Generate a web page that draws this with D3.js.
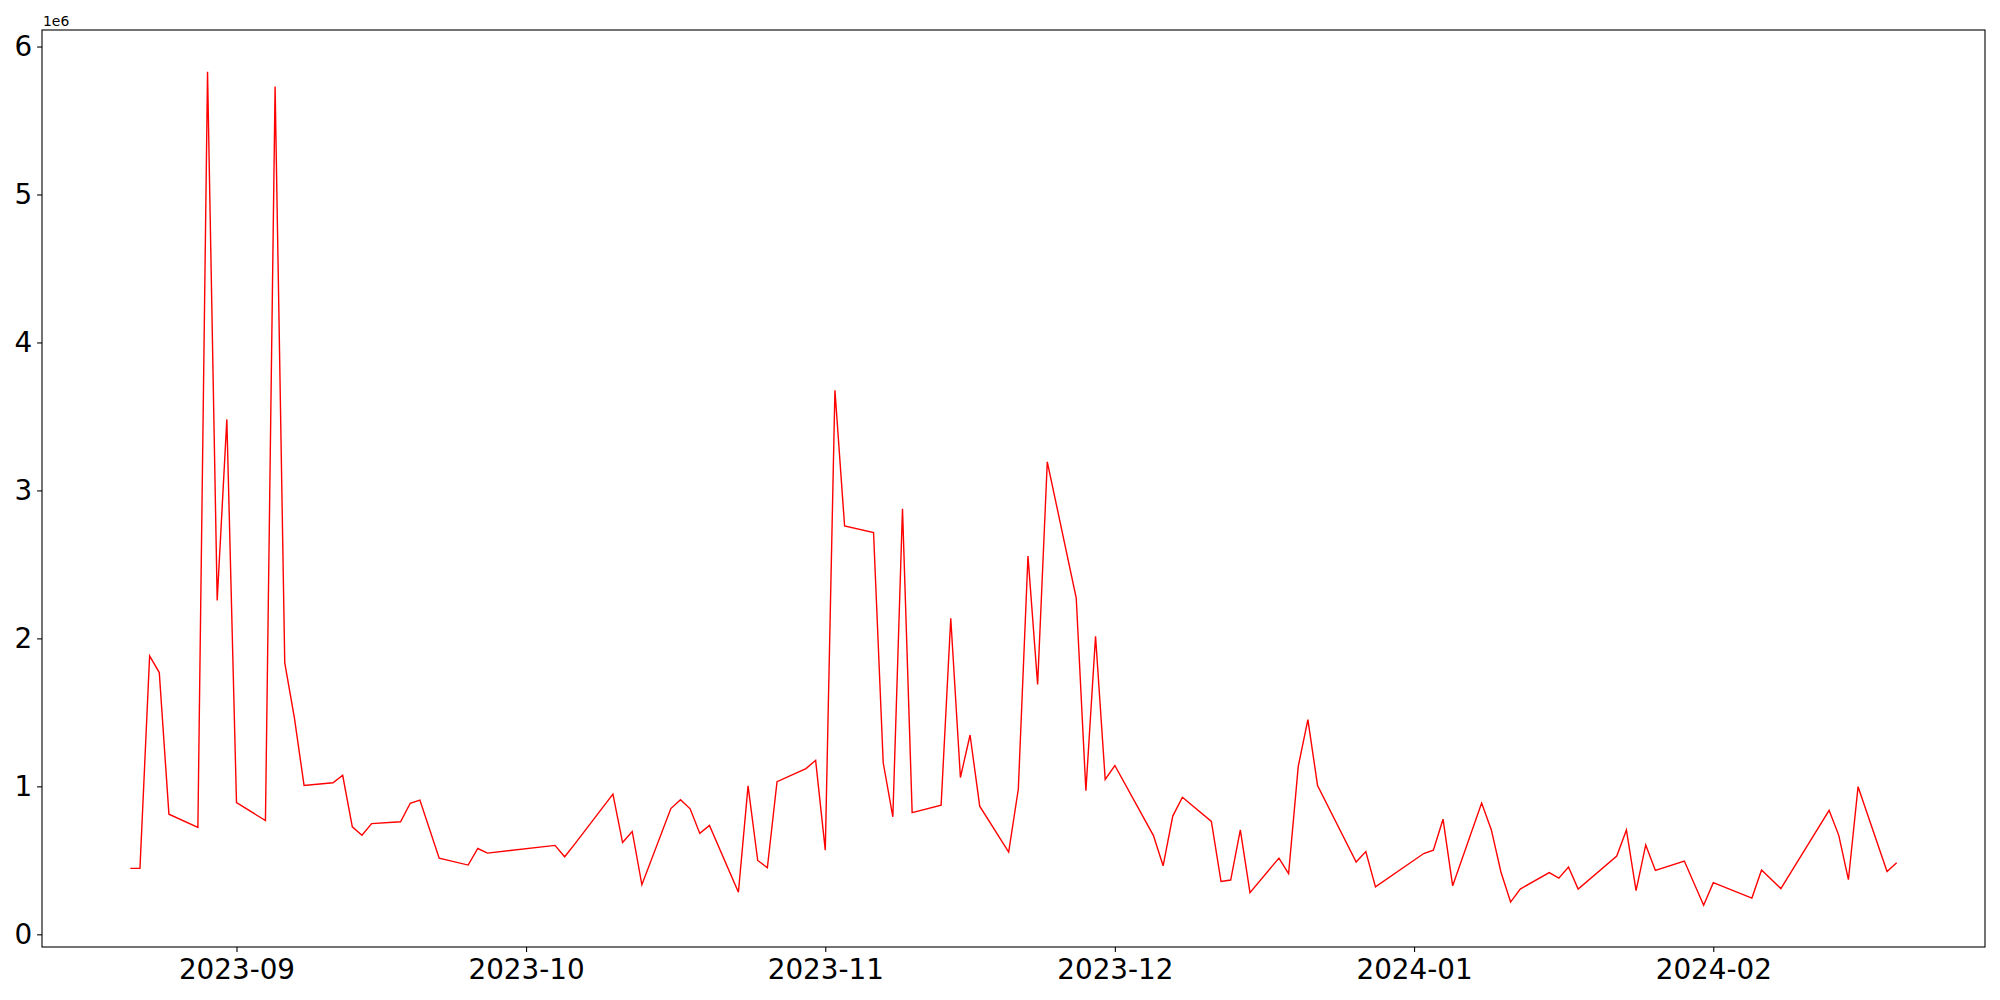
<!DOCTYPE html>
<html>
<head>
<meta charset="utf-8">
<script src="https://cdn.jsdelivr.net/npm/d3@7"></script>
<style>
  html, body { margin: 0; padding: 0; background: #fff; }
  svg { display: block; }
  .axis text { font-family: "DejaVu Sans", sans-serif; font-size: 27.8px; fill: #000; }
  .axis path, .axis line { stroke: #000; stroke-width: 1.1px; }
</style>
</head>
<body>
<svg id="chart" width="2000" height="1000"></svg>
<script>
// trading days and values (millions)
var dates = [
  "2023-08-21","2023-08-22","2023-08-23","2023-08-24","2023-08-25",
  "2023-08-28","2023-08-29","2023-08-30","2023-08-31","2023-09-01",
  "2023-09-04","2023-09-05","2023-09-06","2023-09-07","2023-09-08",
  "2023-09-11","2023-09-12","2023-09-13","2023-09-14","2023-09-15",
  "2023-09-18","2023-09-19","2023-09-20","2023-09-22",
  "2023-09-25","2023-09-26","2023-09-27",
  "2023-10-04","2023-10-05","2023-10-06",
  "2023-10-10","2023-10-11","2023-10-12","2023-10-13",
  "2023-10-16","2023-10-17","2023-10-18","2023-10-19","2023-10-20",
  "2023-10-23","2023-10-24","2023-10-25","2023-10-26","2023-10-27",
  "2023-10-30","2023-10-31","2023-11-01","2023-11-02","2023-11-03",
  "2023-11-06","2023-11-07","2023-11-08","2023-11-09","2023-11-10",
  "2023-11-13","2023-11-14","2023-11-15","2023-11-16","2023-11-17",
  "2023-11-20","2023-11-21","2023-11-22","2023-11-23","2023-11-24",
  "2023-11-27","2023-11-28","2023-11-29","2023-11-30","2023-12-01",
  "2023-12-05","2023-12-06","2023-12-07","2023-12-08",
  "2023-12-11","2023-12-12","2023-12-13","2023-12-14","2023-12-15",
  "2023-12-18","2023-12-19","2023-12-20","2023-12-21","2023-12-22",
  "2023-12-26","2023-12-27","2023-12-28",
  "2024-01-02","2024-01-03","2024-01-04","2024-01-05",
  "2024-01-08","2024-01-09","2024-01-10","2024-01-11","2024-01-12",
  "2024-01-15","2024-01-16","2024-01-17","2024-01-18",
  "2024-01-22","2024-01-23","2024-01-24","2024-01-25","2024-01-26",
  "2024-01-29","2024-01-31","2024-02-01",
  "2024-02-05","2024-02-06","2024-02-08",
  "2024-02-13","2024-02-14","2024-02-15","2024-02-16",
  "2024-02-19","2024-02-20"
];
var values = [
  0.446,0.446,1.881,1.769,0.812,
  0.722,5.830,2.256,3.480,0.890,
  0.769,5.730,1.834,1.463,1.006,
  1.024,1.075,0.726,0.670,0.748,
  0.761,0.886,0.907,0.515,
  0.468,0.580,0.549,
  0.601,0.524,0.606,
  0.948,0.620,0.695,0.335,
  0.850,0.910,0.848,0.682,0.736,
  0.284,1.003,0.499,0.450,1.032,
  1.120,1.176,0.569,3.677,2.760,
  2.715,1.161,0.794,2.876,0.822,
  0.872,2.136,1.060,1.347,0.866,
  0.556,0.982,2.557,1.688,3.193,
  2.273,0.970,2.014,1.047,1.141,
  0.667,0.463,0.799,0.926,
  0.763,0.357,0.367,0.706,0.282,
  0.515,0.411,1.135,1.451,1.006,
  0.489,0.559,0.321,
  0.546,0.569,0.778,0.328,
  0.887,0.707,0.421,0.218,0.306,
  0.417,0.380,0.455,0.306,
  0.529,0.705,0.295,0.604,0.432,
  0.495,0.196,0.349,
  0.245,0.435,0.309,
  0.838,0.669,0.369,0.998,
  0.424,0.484
];
var yTicks = [0, 1, 2, 3, 4, 5, 6];
var offsetLabel = "1e6";

var parse = d3.timeParse("%Y-%m-%d");
var data = dates.map(function(d, i) { return { date: parse(d), value: values[i] * 1e6 }; });

var svg = d3.select("#chart"),
    margin = {top: 30, right: 15, bottom: 53, left: 42},
    width = +svg.attr("width") - margin.left - margin.right,
    height = +svg.attr("height") - margin.top - margin.bottom;

// matplotlib-like 5% padding on both axes
var xExt = d3.extent(data, function(d) { return d.date; });
var xPad = (xExt[1] - xExt[0]) * 0.05;
var yExt = d3.extent(data, function(d) { return d.value; });
var yPad = (yExt[1] - yExt[0]) * 0.05;

var x = d3.scaleTime()
    .domain([new Date(+xExt[0] - xPad), new Date(+xExt[1] + xPad)])
    .range([0, width]);
var y = d3.scaleLinear()
    .domain([yExt[0] - yPad, yExt[1] + yPad])
    .range([height, 0]);

var g = svg.append("g")
    .attr("transform", "translate(" + margin.left + "," + margin.top + ")");

var line = d3.line()
    .x(function(d) { return x(d.date); })
    .y(function(d) { return y(d.value); });

g.append("path")
    .datum(data)
    .attr("fill", "none")
    .attr("stroke", "#ff0000")
    .attr("stroke-width", 1.4)
    .attr("stroke-linejoin", "miter")
    .attr("d", line);

var xAxis = d3.axisBottom(x)
    .ticks(d3.timeMonth.every(1))
    .tickFormat(d3.timeFormat("%Y-%m"))
    .tickSize(4.9)
    .tickPadding(4.9)
    .tickSizeOuter(0);

var yAxis = d3.axisLeft(y)
    .tickValues(yTicks.map(function(t) { return t * 1e6; }))
    .tickFormat(function(d) { return d3.format("d")(d / 1e6); })
    .tickSize(4.9)
    .tickPadding(4.9)
    .tickSizeOuter(0);

var gx = g.append("g")
    .attr("class", "axis axis--x")
    .attr("transform", "translate(0," + height + ")")
    .call(xAxis);
gx.select(".domain").remove();
gx.selectAll("text").attr("dy", "0.8em");

var gy = g.append("g")
    .attr("class", "axis axis--y")
    .call(yAxis);
gy.select(".domain").remove();

// frame
g.append("rect")
    .attr("width", width)
    .attr("height", height)
    .attr("fill", "none")
    .attr("stroke", "#000")
    .attr("stroke-width", 1.1);

svg.append("text")
    .attr("x", margin.left + 1)
    .attr("y", margin.top - 4)
    .attr("font-family", "DejaVu Sans, sans-serif")
    .attr("font-size", "13.9px")
    .text(offsetLabel);
</script>
</body>
</html>
